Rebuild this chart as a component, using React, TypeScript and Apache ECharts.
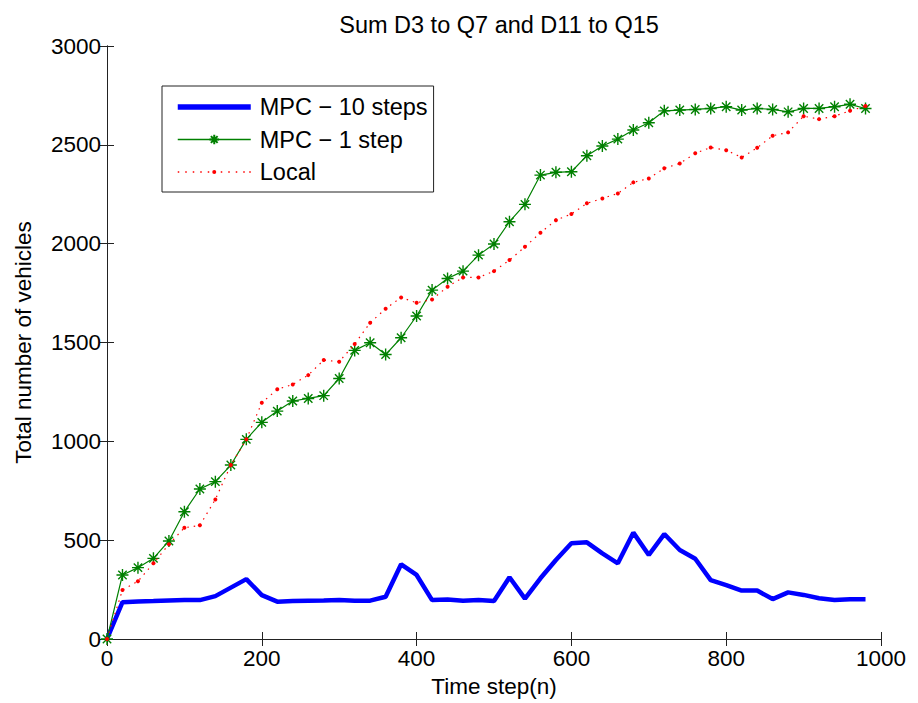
import React, { useEffect, useRef } from "react";
import * as echarts from "echarts";

const steps = [0, 20, 40, 60, 80, 100, 120, 140, 160, 180, 200, 220, 240, 260, 280, 300, 320, 340, 360, 380, 400, 420, 440, 460, 480, 500, 520, 540, 560, 580, 600, 620, 640, 660, 680, 700, 720, 740, 760, 780, 800, 820, 840, 860, 880, 900, 920, 940, 960, 980];

const mpc10 = [0, 186, 190, 192, 195, 197, 197, 217, 260, 303, 222, 189, 192, 194, 195, 197, 193, 194, 214, 378, 324, 197, 200, 193, 197, 192, 312, 204, 307, 400, 484, 489, 433, 383, 538, 425, 531, 450, 406, 298, 273, 245, 245, 202, 236, 223, 206, 197, 201, 201];

const mpc1 = [0, 324, 361, 408, 496, 644, 759, 796, 880, 1010, 1096, 1153, 1204, 1217, 1231, 1318, 1460, 1499, 1439, 1524, 1634, 1765, 1824, 1861, 1942, 1998, 2111, 2199, 2347, 2361, 2364, 2445, 2494, 2529, 2575, 2612, 2672, 2676, 2679, 2684, 2693, 2676, 2684, 2679, 2667, 2684, 2684, 2693, 2705, 2684];

const local = [0, 248, 292, 383, 479, 563, 575, 706, 880, 1010, 1195, 1263, 1288, 1335, 1411, 1403, 1492, 1600, 1671, 1728, 1701, 1718, 1782, 1829, 1829, 1861, 1917, 1984, 2055, 2119, 2150, 2204, 2229, 2254, 2310, 2330, 2381, 2406, 2457, 2487, 2473, 2436, 2485, 2546, 2563, 2645, 2630, 2645, 2672, 2696];

const seriesNames = ["MPC \u2212 10 steps", "MPC \u2212 1 step", "Local"];
const titleText = "Sum D3 to Q7 and D11 to Q15";
const xName = "Time step(n)";
const yName = "Total number of vehicles";

const FONT = "'Liberation Sans', Arial, Helvetica, sans-serif";
const STAR = "path://M5,0L5,10M0,5L10,5M1.5,1.5L8.5,8.5M8.5,1.5L1.5,8.5";

// legend glyph for the dotted red line with a dot marker in the middle
const dottedIcon = (() => {
  let d = "";
  const xs = [0, 7.5, 15, 22.5, 30, 43, 50.5, 58, 65.5, 71.5];
  xs.forEach((x) => {
    d += `M${x},1.25L${x + 1.5},1.25L${x + 1.5},2.75L${x},2.75Z`;
  });
  d += "M34.5,2A2,2 0 1 0 38.5,2A2,2 0 1 0 34.5,2Z";
  return "path://" + d;
})();

const zip = (ys: number[]) => steps.map((x, i) => [x, ys[i]]);

export default function App() {
  const ref = useRef<HTMLDivElement>(null);
  useEffect(() => {
    if (!ref.current) return;
    const chart = echarts.init(ref.current, undefined, { renderer: "svg" });
    const axisLine = { show: true, lineStyle: { color: "#222", width: 1 } };
    const tick = { show: true, inside: true, length: 7, lineStyle: { color: "#222", width: 1 } };
    const label = { color: "#000", fontSize: 22.5, fontFamily: FONT, formatter: (v: number) => String(v) };
    chart.setOption({
      animation: false,
      backgroundColor: "#fff",
      title: {
        text: titleText,
        left: 494,
        textAlign: "center",
        top: 8,
        textStyle: { color: "#000", fontSize: 23.5, fontWeight: "normal", fontFamily: FONT },
      },
      grid: { left: 107, right: 37, top: 46, bottom: 64, containLabel: false },
      legend: {
        orient: "vertical",
        left: 162,
        top: 86,
        padding: [8, 6, 7, 13],
        borderColor: "#222",
        borderWidth: 1,
        backgroundColor: "#fff",
        itemWidth: 73,
        itemHeight: 12,
        itemGap: 6.5,
        symbolKeepAspect: true,
        data: [
          { name: seriesNames[0], itemStyle: { opacity: 0 }, lineStyle: { width: 5.5 } },
          { name: seriesNames[1], lineStyle: { width: 1.3 } },
          { name: seriesNames[2], icon: dottedIcon },
        ],
        textStyle: { color: "#000", fontSize: 23.5, fontFamily: FONT, lineHeight: 26, padding: [0, 0, 0, 4] },
      },
      xAxis: [
        {
          type: "value",
          min: 0,
          max: 1000,
          interval: 200,
          position: "bottom",
          name: xName,
          nameLocation: "middle",
          nameGap: 36,
          nameTextStyle: { color: "#000", fontSize: 22.5, fontFamily: FONT },
          axisLine,
          axisTick: tick,
          axisLabel: { ...label, margin: 8 },
          splitLine: { show: false },
        },
        {
          type: "value",
          min: 0,
          max: 1000,
          interval: 200,
          position: "top",
          axisLine,
          axisTick: tick,
          axisLabel: { show: false },
          splitLine: { show: false },
        },
      ],
      yAxis: [
        {
          type: "value",
          min: 0,
          max: 3000,
          interval: 500,
          position: "left",
          name: yName,
          nameLocation: "middle",
          nameGap: 72,
          nameTextStyle: { color: "#000", fontSize: 22.5, fontFamily: FONT },
          axisLine,
          axisTick: tick,
          axisLabel: { ...label, margin: 6 },
          splitLine: { show: false },
        },
        {
          type: "value",
          min: 0,
          max: 3000,
          interval: 500,
          position: "right",
          axisLine,
          axisTick: tick,
          axisLabel: { show: false },
          splitLine: { show: false },
        },
      ],
      series: [
        {
          name: seriesNames[0],
          type: "line",
          data: zip(mpc10),
          showSymbol: false,
          symbol: "none",
          lineStyle: { color: "#0000ff", width: 4.5 },
          itemStyle: { color: "#0000ff" },
          z: 3,
        },
        {
          name: seriesNames[1],
          type: "line",
          data: zip(mpc1),
          symbol: STAR,
          symbolSize: 12,
          lineStyle: { color: "#008000", width: 1.2 },
          itemStyle: { color: "#008000", borderColor: "#008000", borderWidth: 1.4 },
          z: 4,
        },
        {
          name: seriesNames[2],
          type: "line",
          data: zip(local),
          symbol: "circle",
          symbolSize: 4,
          lineStyle: { color: "#ff0000", width: 1.2, type: [1.5, 5] },
          itemStyle: { color: "#ff0000", borderWidth: 0 },
          z: 5,
        },
      ],
    });
    return () => chart.dispose();
  }, []);
  return <div ref={ref} style={{ width: 918, height: 703, position: "absolute", left: 0, top: 0 }} />;
}
